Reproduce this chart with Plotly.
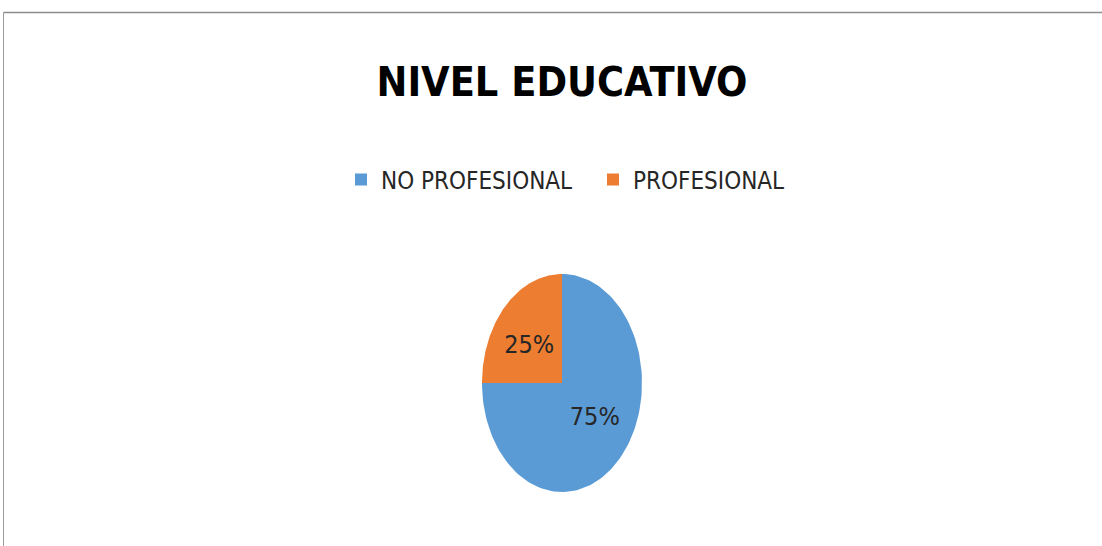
import numpy as np
import plotly.graph_objects as go

# --- data -------------------------------------------------------------------
categories = ["NO PROFESIONAL", "PROFESIONAL"]
values = [75, 25]
colors = ["#5B9BD5", "#ED7D31"]
title_text = "NIVEL EDUCATIVO"

W, H = 1102, 546
CX, CY = 562, 383          # pie centre in pixels
RX, RY = 80, 109           # squashed pie radii (pixels)
LABEL_RU, LABEL_RV = 0.58, 0.47
NARROW = "Liberation Sans Narrow, DejaVu Sans Condensed, Arial Narrow, sans-serif"

fig = go.Figure()

# slices are drawn clockwise from 12 o'clock, as a unit circle on axes whose
# x and y scales differ, which gives the stretched ellipse of the original
total = sum(values)
start = 90.0
for cat, val, col in zip(categories, values, colors):
    sweep = 360.0 * val / total
    ang = np.radians(np.linspace(start, start - sweep, 120))
    xs = np.concatenate([[0], np.cos(ang), [0]])
    ys = np.concatenate([[0], np.sin(ang), [0]])
    fig.add_trace(go.Scatter(
        x=xs, y=ys, mode="lines", fill="toself", fillcolor=col,
        line={"width": 0, "color": col}, hoverinfo="skip", showlegend=False,
    ))
    mid = np.radians(start - sweep / 2)
    fig.add_trace(go.Scatter(
        x=[LABEL_RU * np.cos(mid)], y=[LABEL_RV * np.sin(mid)], mode="text",
        text=[f"{val / total:.0%}"], hoverinfo="skip", showlegend=False,
        textfont={"family": NARROW, "size": 25, "color": "#262626"},
    ))
    start -= sweep

# legend entries (square swatches)
for cat, col in zip(categories, colors):
    fig.add_trace(go.Scatter(
        x=[None], y=[None], mode="markers", name=cat,
        marker={"symbol": "square", "size": 15, "color": col},
    ))

fig.update_layout(
    width=W, height=H,
    margin={"l": 0, "r": 0, "t": 0, "b": 0},
    paper_bgcolor="white", plot_bgcolor="white",
    title={"text": f"<b>{title_text}</b>", "x": 562 / W, "xanchor": "center",
           "y": 1 - 82 / H, "yanchor": "middle",
           "font": {"family": NARROW, "size": 41, "color": "#000000"}},
    legend={"orientation": "h", "x": 341 / W, "xanchor": "left",
            "y": 1 - 180 / H, "yanchor": "middle",
            "font": {"family": NARROW, "size": 24, "color": "#262626"},
            "itemsizing": "constant", "itemwidth": 30, "entrywidth": 207},
    xaxis={"range": [-CX / RX, (W - CX) / RX], "visible": False, "fixedrange": True},
    yaxis={"range": [-(H - CY) / RY, CY / RY], "visible": False, "fixedrange": True},
    showlegend=True,
    shapes=[
        {"type": "line", "xref": "paper", "yref": "paper",
         "x0": 3.5 / W, "x1": 1, "y0": 1 - 12.5 / H, "y1": 1 - 12.5 / H,
         "line": {"color": "#8c8c8c", "width": 1.5}},
        {"type": "line", "xref": "paper", "yref": "paper",
         "x0": 3.5 / W, "x1": 3.5 / W, "y0": 0, "y1": 1 - 12.5 / H,
         "line": {"color": "#9a9a9a", "width": 1}},
    ],
)

fig.write_html("out.html", config={"displayModeBar": False},
               post_script="document.body.style.margin='0';")
